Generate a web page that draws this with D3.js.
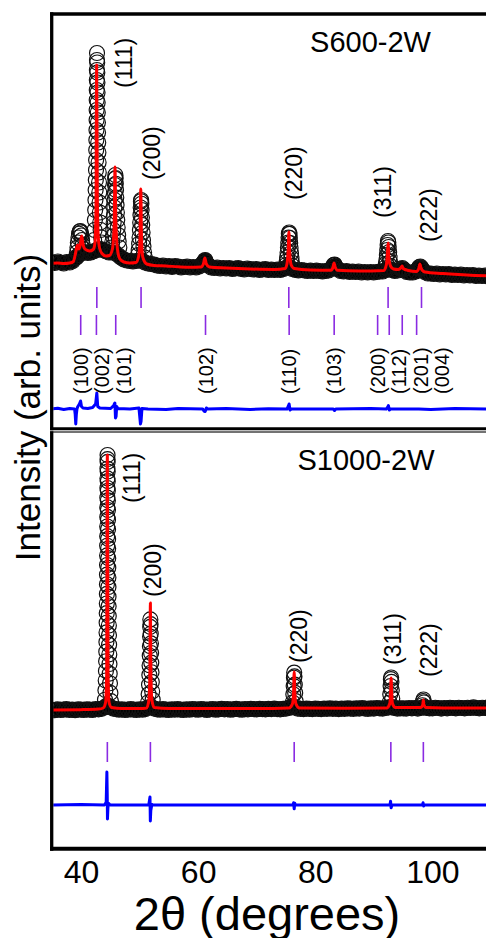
<!DOCTYPE html>
<html>
<head>
<meta charset="utf-8">
<script src="https://cdnjs.cloudflare.com/ajax/libs/d3/7.8.5/d3.min.js"></script>
<style>
body{margin:0;background:#fff;overflow:hidden}
svg text{font-family:"Liberation Sans",Arial,Helvetica,sans-serif;fill:#000}
</style>
</head>
<body>
<svg id="chart" width="486" height="938"></svg>
<script>
// ------------------------------------------------------------
// data
// intensities in arbitrary units, 2theta in degrees
// ------------------------------------------------------------

// S600-2W : observed points between reflections (0.5 deg grid from 37)
var topBaseStart = 37, topBaseStep = 0.5;
var topObsBase = [
 112,108,114,110,106,112,110,116,130,140,
 150,152,148,150,155,160,165,160,155,150,
 150,150,140,130,122,118,116,114,116,118,
 118,110,106,104,102,98,96,98,94,96,
 92,96,94,90,92,94,90,92,90,94,
 104,120,100,90,88,90,86,88,86,88,
 84,86,88,84,82,86,84,82,84,80,
 82,84,80,82,80,82,80,84,90,92,
 84,80,78,80,78,76,78,76,78,76,
 74,76,78,86,100,84,76,74,76,72,
 74,72,74,70,72,70,72,70,72,74,
 74,80,84,80,76,78,84,82,72,70,
 70,74,88,86,72,66,66,64,66,62,
 64,62,64,60,62,60,62,58,60,58,
 60,56,58,56,58,54,56
];

// S600-2W : observed points across the reflections [2theta, I]
var topObsPeaks = [
 [41.10,130],[41.20,150],[41.28,170],[41.35,190],[41.45,210],[41.55,225],[41.65,234],[41.75,236],[41.85,230],[41.95,218],[42.05,200],[42.15,180],[42.25,165],[42.35,150],
 [44.05,200],[44.12,240],[44.18,280],[44.23,320],[44.27,360],[44.30,400],[44.33,440],[44.36,480],[44.38,520],[44.40,560],[44.42,600],[44.44,640],[44.46,680],[44.47,720],[44.48,760],[44.49,800],[44.50,840],[44.51,880],[44.52,920],[44.53,948],
 [44.56,910],[44.58,870],[44.60,830],[44.62,790],[44.64,750],[44.66,710],[44.68,670],[44.70,630],[44.73,590],[44.76,550],[44.79,510],[44.82,470],[44.86,430],[44.90,390],[44.95,350],[45.00,310],[45.06,270],[45.13,240],[45.22,210],[45.32,190],
 [46.95,170],[47.05,190],[47.15,215],[47.23,240],[47.30,270],[47.36,300],[47.41,330],[47.45,360],[47.49,390],[47.52,420],[47.55,445],[47.58,460],
 [47.62,448],[47.65,425],[47.69,400],[47.73,370],[47.78,340],[47.83,310],[47.89,280],[47.96,250],[48.04,220],[48.13,195],[48.24,170],
 [51.35,140],[51.45,160],[51.53,185],[51.60,210],[51.66,240],[51.71,270],[51.75,300],[51.79,330],[51.83,355],[51.86,360],
 [51.90,345],[51.94,320],[51.99,290],[52.04,260],[52.10,230],[52.17,200],[52.25,175],[52.35,150],[52.47,130],
 [62.20,104],[62.35,114],[62.50,118],[62.65,110],[62.80,100],
 [75.95,100],[76.05,115],[76.13,130],[76.20,150],[76.26,170],[76.31,190],[76.36,210],[76.41,225],[76.46,230],
 [76.52,224],[76.57,208],[76.63,188],[76.69,168],[76.76,148],[76.84,128],[76.93,110],[77.03,96],
 [83.70,92],[83.85,100],[84.00,102],[84.15,94],
 [92.45,90],[92.55,105],[92.63,120],[92.70,140],[92.76,160],[92.82,180],[92.88,196],
 [92.94,190],[93.00,172],[93.07,152],[93.14,132],[93.22,112],[93.32,96],
 [95.10,84],[95.25,88],[95.40,82],
 [97.95,86],[98.10,92],[98.25,94],[98.40,88]
];

// S600-2W : calculated profile
var topCalc = [
 [37.0,106],[38.0,108],[39.0,106],[40.0,108],[40.6,114],[40.9,140],[41.15,170],[41.3,180],[41.5,164],[41.7,175],[41.85,200],[42.0,216],[42.15,190],[42.4,168],[42.8,160],[43.3,156],[43.9,162],[44.2,190],[44.36,330],[44.47,900],[44.58,380],[44.72,220],[44.95,168],[45.4,145],[46.0,136],[46.6,138],[47.1,165],[47.38,260],[47.52,492],[47.66,270],[47.92,165],[48.3,125],[49.0,112],[50.0,108],[51.0,110],[51.45,135],[51.67,200],[51.8,404],[51.93,200],[52.15,130],[52.8,104],[54.0,98],[56.0,96],[58.0,93],[60.0,91],[61.8,92],[62.2,104],[62.45,128],[62.7,104],[63.2,92],[66.0,88],[70.0,84],[74.0,82],[75.8,86],[76.1,105],[76.3,160],[76.42,232],[76.55,150],[76.8,100],[77.3,86],[80.0,80],[83.4,79],[83.75,92],[83.92,108],[84.1,92],[84.5,79],[88.0,76],[92.2,78],[92.6,100],[92.78,140],[92.9,188],[93.03,130],[93.3,96],[93.8,84],[94.6,82],[95.05,90],[95.22,96],[95.4,86],[96.3,78],[97.6,74],[98.0,86],[98.18,104],[98.4,86],[99.0,72],[102.0,66],[106.0,60],[110.0,56]
];

// S600-2W : difference obs - calc
var topDiff = [
 [37,0],[38,3],[39,-2],[40,2],[40.8,0],[40.9,-20],[41.0,-60],[41.1,-20],[41.2,0],[41.3,8],[41.6,20],[41.8,32],[41.95,10],[42.2,4],[43.0,2],[43.8,6],[44.3,20],[44.5,64],[44.65,10],[45.0,4],[46.8,2],[47.3,14],[47.5,24],[47.6,-36],[47.7,-30],[47.8,10],[48.0,2],[50,0],[51.5,4],[51.75,-60],[51.85,-50],[52.0,2],[53,0],[56,-2],[58,2],[62.1,0],[62.3,-8],[62.5,-10],[62.7,4],[62.9,0],[66,2],[70,-2],[73,1],[76.1,0],[76.3,10],[76.45,20],[76.6,-4],[76.8,0],[80,0],[83.8,0],[84,-6],[84.2,0],[90,2],[92.6,0],[92.8,6],[92.95,14],[93.1,-4],[93.3,0],[98,0],[100,-2],[104,2],[110,0]
];

// S1000-2W : observed points between reflections (0.5 deg grid from 35)
var botBaseStart = 35, botBaseStep = 0.5;
var botObsBase = [
 74,72,75,73,74,76,73,74,72,75,
 74,73,75,74,73,76,75,77,82,90,
 84,78,76,74,75,73,74,76,74,73,
 75,74,76,82,84,78,75,74,76,74,
 73,75,74,76,74,73,75,74,76,75,
 74,76,75,73,75,76,74,75,77,75,
 76,74,75,77,75,74,76,75,77,76,
 75,77,76,75,77,76,78,76,75,77,
 78,80,86,82,78,77,76,78,77,76,
 78,77,76,78,77,79,77,78,76,78,
 77,79,78,77,79,78,80,78,77,79,
 78,80,79,78,80,82,84,80,78,79,
 79,78,80,79,80,78,80,84,80,79,
 79,81,80,78,80,79,81,80,79,81,
 80,79,81,80,82,80,79,81,80,82,
 80
];

// S1000-2W : observed points across the reflections [2theta, I]
var botObsPeaks = [
 [44.10,110],[44.17,145],[44.22,180],[44.26,215],[44.29,250],[44.32,285],[44.34,320],[44.36,355],[44.38,390],[44.395,425],[44.41,460],[44.42,495],[44.43,530],[44.44,565],[44.45,600],[44.46,635],[44.47,670],[44.475,705],[44.48,740],[44.49,775],[44.495,810],[44.50,845],[44.51,880],[44.515,915],[44.52,950],[44.53,985],[44.535,1000],
 [44.55,975],[44.56,940],[44.57,905],[44.58,870],[44.59,835],[44.60,800],[44.61,765],[44.62,730],[44.63,695],[44.64,660],[44.65,625],[44.66,590],[44.68,555],[44.69,520],[44.70,485],[44.72,450],[44.74,415],[44.76,380],[44.78,345],[44.80,310],[44.83,275],[44.86,240],[44.90,205],[44.95,170],[45.02,135],[45.12,105],
 [51.45,100],[51.55,130],[51.62,165],[51.67,200],[51.71,235],[51.74,270],[51.77,305],[51.80,340],[51.82,375],[51.84,402],
 [51.88,385],[51.91,350],[51.94,315],[51.97,280],[52.00,245],[52.04,210],[52.09,175],[52.15,140],[52.24,110],
 [76.15,100],[76.25,130],[76.31,160],[76.36,190],[76.40,209],[76.45,195],[76.50,165],[76.57,135],[76.66,105],
 [92.70,100],[92.80,130],[92.86,160],[92.91,185],[92.95,191],[93.00,175],[93.06,145],[93.14,115],
 [98.30,90],[98.40,105],[98.47,111],[98.55,100]
];

// S1000-2W : calculated profile
var botCalc = [
 [35,73],[40,74],[43,76],[43.8,80],[44.2,100],[44.38,200],[44.5,1000],[44.62,200],[44.8,100],[45.2,82],[47,78],[50,78],[51.2,80],[51.6,110],[51.76,200],[51.85,462],[51.94,200],[52.1,110],[52.5,82],[55,78],[60,78],[70,78],[75.5,80],[76.1,95],[76.3,140],[76.4,211],[76.5,140],[76.7,95],[77.3,80],[85,79],[92.2,80],[92.7,95],[92.87,140],[92.95,189],[93.03,140],[93.2,95],[93.7,82],[98.0,82],[98.35,92],[98.45,109],[98.55,92],[98.9,82],[105,80],[110,80]
];

// S1000-2W : difference obs - calc
var botDiff = [
 [35,0],[40,2],[44.0,0],[44.3,10],[44.42,120],[44.48,40],[44.52,-51],[44.6,-10],[44.7,6],[45,0],[48,0],[51.5,0],[51.6,4],[51.78,29],[51.84,-58],[51.92,-20],[52.1,2],[52.3,0],[60,0],[70,0],[76.2,0],[76.3,8],[76.4,-14],[76.5,6],[76.6,0],[85,0],[92.75,0],[92.85,14],[92.95,-10],[93.1,0],[98.3,0],[98.4,8],[98.5,-4],[98.6,0],[110,0]
];

// Bragg positions and indices
var fccTicks = [44.50, 51.85, 76.40, 92.90, 98.45];
var fccLabels = ["(111)", "(200)", "(220)", "(311)", "(222)"];
var hcpTicks = [41.82, 44.43, 47.64, 62.56, 76.46, 83.94, 91.16, 93.09, 95.25, 97.64];
var hcpLabels = ["(100)", "(002)", "(101)", "(102)", "(110)", "(103)", "(200)", "(112)", "(201)", "(004)"];
var xTickValues = [40, 60, 80, 100];

// ------------------------------------------------------------
// layout
// ------------------------------------------------------------
var L = 51.7, R = 491;
var topPanel = {y0: 14, y1: 428.7};
var botPanel = {y0: 432, y1: 848.7};

// label placement: dx (px from reflection) and bottom y of the rotated text
var topLabelPos = [{dx: 27, y: 88}, {dx: 11, y: 180}, {dx: 5.5, y: 200}, {dx: -5.3, y: 218}, {dx: 7, y: 242}];
var botLabelPos = [{dx: 25, y: 503}, {dx: 2.5, y: 597}, {dx: 5, y: 663}, {dx: 2, y: 665}, {dx: 6, y: 677}];

var xTop = d3.scaleLinear().domain([37, 110]).range([L, R]);
var xBot = d3.scaleLinear().domain([35, 110]).range([L, R]);
var yTop = d3.scaleLinear().domain([0, 1000]).range([290, 40]);
var yTopDiff = d3.scaleLinear().domain([0, 1000]).range([409, 159]);
var yBot = d3.scaleLinear().domain([0, 1000]).range([730, 455]);
var yBotDiff = d3.scaleLinear().domain([0, 1000]).range([805, 530]);

var svg = d3.select("#chart");
var defs = svg.append("defs");

function addClip(id, p){
	defs.append("clipPath").attr("id", id)
		.append("rect")
		.attr("x", L + 1.6).attr("y", p.y0 + 1.5)
		.attr("width", R - L).attr("height", p.y1 - p.y0 - 3);
}
addClip("clipTop", topPanel);
addClip("clipBot", botPanel);

// --------------------------------------------------
// one Rietveld pattern: observed circles, calc, diff
// --------------------------------------------------
function drawPattern(clipId, x, y, yd, baseStart, baseStep, base, peaks, calc, diff){

	var g = svg.append("g").attr("clip-path", "url(#" + clipId + ")");

	var basePts = base.map(function(v, i){ return [baseStart + i * baseStep, v]; });

	var lineObs = d3.line().x(function(d){ return x(d[0]); }).y(function(d){ return y(d[1]); });
	var lineCalc = d3.line().curve(d3.curveMonotoneX).x(function(d){ return x(d[0]); }).y(function(d){ return y(d[1]); });
	var lineDiff = d3.line().x(function(d){ return x(d[0]); }).y(function(d){ return yd(d[1]); });

	// dense observed points merge into a black band
	g.append("path")
		.datum(basePts)
		.attr("d", lineObs)
		.attr("style", "fill:none;stroke:#000;stroke-width:14;stroke-linejoin:round;stroke-linecap:round");

	g.selectAll("circle.obs")
		.data(basePts.concat(peaks))
		.join("circle")
		.attr("class", "obs")
		.attr("cx", function(d){ return x(d[0]); })
		.attr("cy", function(d){ return y(d[1]); })
		.attr("r", 7.5)
		.attr("style", "fill:none;stroke:#111;stroke-width:1.2");

	g.append("path")
		.datum(calc)
		.attr("d", lineCalc)
		.attr("style", "fill:none;stroke:#ff0000;stroke-width:3;stroke-linejoin:round");

	g.append("path")
		.datum(diff)
		.attr("d", lineDiff)
		.attr("style", "fill:none;stroke:#0000ff;stroke-width:3;stroke-linejoin:round");

	return g;
}

function drawTicks(x, ticks, y1, y2){
	svg.append("g").selectAll("line")
		.data(ticks)
		.join("line")
		.attr("x1", function(d){ return x(d); })
		.attr("x2", function(d){ return x(d); })
		.attr("y1", y1).attr("y2", y2)
		.attr("style", "stroke:#8a2be2;stroke-width:1.6");
}

function drawLabels(x, ticks, labels, pos, size){
	svg.append("g").selectAll("text")
		.data(labels)
		.join("text")
		.attr("transform", function(d, i){ return "translate(" + (x(ticks[i]) + pos[i].dx) + "," + pos[i].y + ") rotate(-90)"; })
		.attr("dy", "0.35em")
		.attr("style", "font-size:" + size + "px;text-anchor:start")
		.text(function(d){ return d; });
}

// top pattern
drawPattern("clipTop", xTop, yTop, yTopDiff, topBaseStart, topBaseStep, topObsBase, topObsPeaks, topCalc, topDiff);
drawTicks(xTop, fccTicks, 287, 308);
drawTicks(xTop, hcpTicks, 315, 335);
drawLabels(xTop, fccTicks, fccLabels, topLabelPos, 23);

// hcp labels are pushed apart so they do not overlap
var hcpPos = [];
var last = -1e9;
hcpTicks.forEach(function(t){
	var px = Math.max(xTop(t), last + 21.5);
	hcpPos.push({dx: px - xTop(t), y: 394});
	last = px;
});
drawLabels(xTop, hcpTicks, hcpLabels, hcpPos, 20);

// bottom pattern
drawPattern("clipBot", xBot, yBot, yBotDiff, botBaseStart, botBaseStep, botObsBase, botObsPeaks, botCalc, botDiff);
drawTicks(xBot, fccTicks, 742, 762);
drawLabels(xBot, fccTicks, fccLabels, botLabelPos, 23);

// --------------------------------------------------
// frames
// --------------------------------------------------
var frame = svg.append("g").attr("style", "fill:none;stroke:#000");
frame.append("path").attr("d", "M" + (L - 1.6) + "," + topPanel.y0 + "H" + (R + 4)).attr("stroke-width", 3.5);
frame.append("path").attr("d", "M" + L + "," + (topPanel.y0 - 1.7) + "V" + (topPanel.y1 + 1.5)).attr("stroke-width", 3.3);
frame.append("path").attr("d", "M" + (L - 1.6) + "," + topPanel.y1 + "H" + (R + 4)).attr("stroke-width", 3);
frame.append("path").attr("d", "M" + R + "," + topPanel.y0 + "V" + topPanel.y1).attr("stroke-width", 3);
frame.append("path").attr("d", "M" + (L - 1.6) + "," + botPanel.y0 + "H" + (R + 4)).attr("stroke-width", 1.5).attr("stroke", "#444");
frame.append("path").attr("d", "M" + L + "," + (botPanel.y0 - 0.7) + "V" + (botPanel.y1 + 2)).attr("stroke-width", 3.3);
frame.append("path").attr("d", "M" + (L - 1.6) + "," + botPanel.y1 + "H" + (R + 4)).attr("stroke-width", 4);
frame.append("path").attr("d", "M" + R + "," + botPanel.y0 + "V" + botPanel.y1).attr("stroke-width", 3);

// --------------------------------------------------
// sample names
// --------------------------------------------------
svg.append("text").attr("x", 370.5).attr("y", 52).attr("style", "font-size:29px;text-anchor:middle").text("S600-2W");
svg.append("text").attr("x", 366).attr("y", 470).attr("style", "font-size:29px;text-anchor:middle").text("S1000-2W");

// --------------------------------------------------
// axes
// --------------------------------------------------
var axis = svg.append("g")
	.attr("transform", "translate(0," + (botPanel.y1 + 1.5) + ")")
	.call(d3.axisBottom(xBot).tickValues(xTickValues).tickSize(0).tickPadding(10).tickFormat(d3.format("d")));
axis.select(".domain").remove();
axis.selectAll("text").attr("style", "font-size:32px;font-family:'Liberation Sans',Arial,sans-serif;fill:#000");

svg.append("text")
	.attr("x", 267).attr("y", 930)
	.attr("style", "font-size:47px;text-anchor:middle")
	.text("2\u03B8 (degrees)");

svg.append("text")
	.attr("transform", "translate(28,407.5) rotate(-90)")
	.attr("dy", "0.35em")
	.attr("style", "font-size:35px;text-anchor:middle")
	.text("Intensity (arb. units)");
</script>
</body>
</html>
